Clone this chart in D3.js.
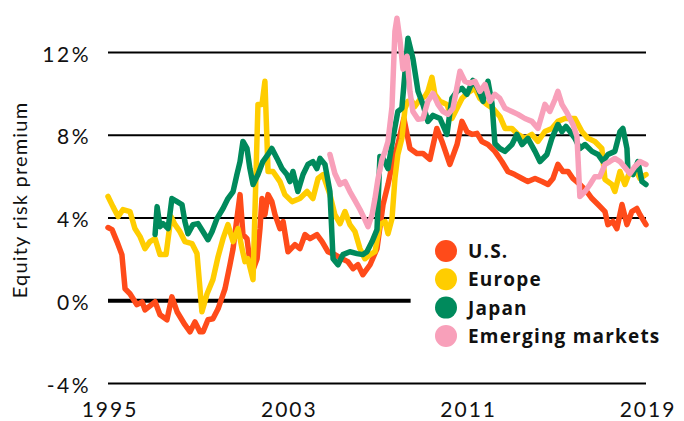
<!DOCTYPE html>
<html><head><meta charset="utf-8">
<script src="https://cdn.jsdelivr.net/npm/d3@7/dist/d3.min.js"></script>
<style>body{margin:0;background:#fff}svg{display:block}</style>
</head><body><svg id="c" width="684" height="421"></svg>
<script>
const seriesNames = ["U.S.", "Europe", "Japan", "Emerging markets"];
const seriesColors = ["#FF4B1A", "#FFCD00", "#008A5C", "#F8A0BA"];
const yTicks = [-4, 4, 8, 12];
const xTicks = [1995, 2003, 2011, 2019];
const zeroLineEnd = 2008.5;

const us = [[1995.00,3.54],[1995.18,3.44],[1995.40,2.86],[1995.62,2.23],[1995.76,0.58],[1995.98,0.34],[1996.29,-0.19],[1996.52,-0.05],[1996.65,-0.44],[1997.10,-0.05],[1997.32,-0.68],[1997.63,-0.92],[1997.85,0.19],[1998.08,-0.53],[1998.43,-1.16],[1998.66,-1.50],[1998.88,-1.02],[1999.10,-1.50],[1999.24,-1.50],[1999.46,-0.92],[1999.68,-0.87],[1999.91,-0.39],[2000.22,0.58],[2000.44,1.74],[2000.58,2.52],[2000.75,3.97],[2000.89,5.13],[2001.02,3.20],[2001.20,3.00],[2001.33,1.89],[2001.47,1.50],[2001.65,2.03],[2001.78,3.49],[2001.87,4.94],[2002.00,4.16],[2002.14,5.13],[2002.31,4.79],[2002.45,4.16],[2002.67,3.49],[2002.81,3.83],[2003.03,2.37],[2003.34,2.71],[2003.56,2.52],[2003.79,3.20],[2004.01,3.00],[2004.32,3.20],[2004.55,2.86],[2004.81,2.37],[2005.12,2.23],[2005.44,2.03],[2005.70,1.89],[2005.93,1.55],[2006.15,1.74],[2006.37,1.26],[2006.69,1.74],[2007.00,2.52],[2007.27,4.65],[2007.49,5.62],[2007.71,6.73],[2007.93,7.55],[2008.20,8.81],[2008.47,7.36],[2008.78,7.12],[2009.05,7.12],[2009.36,6.83],[2009.67,8.33],[2009.90,7.70],[2010.25,6.59],[2010.57,7.55],[2010.79,8.67],[2011.01,8.18],[2011.24,8.04],[2011.46,8.09],[2011.68,7.70],[2011.95,7.55],[2012.26,7.22],[2012.57,6.73],[2012.84,6.25],[2013.15,6.10],[2013.47,5.91],[2013.73,5.76],[2014.05,5.91],[2014.36,5.76],[2014.63,5.62],[2014.85,5.91],[2015.07,6.59],[2015.29,6.25],[2015.52,6.25],[2015.74,5.91],[2016.05,5.62],[2016.36,5.28],[2016.59,4.94],[2016.86,4.65],[2017.17,4.31],[2017.30,3.68],[2017.52,3.83],[2017.70,3.49],[2017.93,4.65],[2018.15,3.68],[2018.37,4.31],[2018.59,4.46],[2018.73,4.16],[2019.00,3.68]];

const europe = [[1995.00,5.04],[1995.22,4.55],[1995.45,4.07],[1995.67,4.41],[1995.98,4.31],[1996.20,3.49],[1996.43,3.10],[1996.65,2.52],[1996.87,2.86],[1997.10,3.00],[1997.32,2.23],[1997.59,2.23],[1997.81,4.07],[1997.99,3.68],[1998.21,3.34],[1998.43,2.86],[1998.75,2.76],[1998.97,2.28],[1999.19,-0.53],[1999.42,0.34],[1999.68,1.02],[1999.91,2.13],[2000.13,3.00],[2000.35,3.68],[2000.58,2.86],[2000.80,3.49],[2000.98,2.52],[2001.11,1.89],[2001.24,2.03],[2001.47,1.02],[2001.69,9.49],[2001.87,9.49],[2002.00,10.61],[2002.14,6.25],[2002.36,6.25],[2002.67,5.76],[2002.89,5.13],[2003.21,4.79],[2003.56,4.94],[2003.88,5.28],[2004.14,4.94],[2004.37,5.91],[2004.59,6.10],[2004.90,5.13],[2005.12,4.16],[2005.35,3.73],[2005.57,4.31],[2005.79,3.68],[2006.02,3.34],[2006.24,2.52],[2006.46,2.03],[2006.69,2.23],[2006.91,2.37],[2007.13,3.68],[2007.36,3.83],[2007.49,3.24],[2007.67,3.97],[2007.80,5.91],[2007.93,7.07],[2008.11,7.85],[2008.25,9.30],[2008.38,9.64],[2008.56,9.64],[2008.69,9.39],[2008.92,9.73],[2009.14,9.88],[2009.27,10.12],[2009.45,10.80],[2009.58,9.98],[2009.81,9.64],[2010.12,9.49],[2010.34,8.81],[2010.57,9.30],[2010.79,9.78],[2011.01,10.02],[2011.37,10.27],[2011.59,9.78],[2011.90,9.49],[2012.17,9.30],[2012.48,8.91],[2012.71,8.33],[2013.02,8.33],[2013.29,8.04],[2013.60,7.85],[2013.91,8.04],[2014.18,7.70],[2014.49,8.18],[2014.80,8.33],[2015.07,8.67],[2015.38,8.81],[2015.83,8.81],[2016.14,8.18],[2016.41,7.85],[2016.72,7.70],[2017.03,7.36],[2017.17,5.86],[2017.48,5.62],[2017.61,5.28],[2017.84,6.25],[2018.06,5.62],[2018.28,6.25],[2018.51,6.39],[2018.73,5.91],[2019.00,6.10]];

const japan = [[1997.10,3.20],[1997.19,4.55],[1997.32,3.58],[1997.45,3.73],[1997.68,3.49],[1997.85,4.94],[1998.08,4.79],[1998.30,4.65],[1998.43,3.83],[1998.57,3.24],[1998.79,3.68],[1999.01,3.73],[1999.24,3.34],[1999.46,2.95],[1999.64,3.34],[1999.86,3.97],[2000.13,4.46],[2000.35,4.94],[2000.58,5.28],[2000.75,6.10],[2000.89,6.73],[2001.02,7.70],[2001.20,7.36],[2001.33,6.39],[2001.47,5.62],[2001.69,6.10],[2001.91,6.73],[2002.14,7.07],[2002.31,7.36],[2002.54,6.88],[2002.76,6.39],[2002.98,6.10],[2003.12,5.76],[2003.25,6.25],[2003.47,5.28],[2003.70,6.10],[2003.92,6.59],[2004.14,6.73],[2004.32,6.39],[2004.46,6.88],[2004.68,6.59],[2004.90,5.28],[2005.04,2.03],[2005.26,1.74],[2005.48,2.23],[2005.79,2.37],[2006.11,2.28],[2006.37,2.23],[2006.55,2.37],[2006.78,2.86],[2007.00,3.44],[2007.13,6.97],[2007.27,6.88],[2007.49,6.39],[2007.71,7.85],[2007.93,9.15],[2008.11,9.30],[2008.38,12.69],[2008.60,11.72],[2008.83,10.12],[2009.05,9.49],[2009.27,8.67],[2009.50,8.96],[2009.81,8.81],[2010.12,8.04],[2010.34,9.78],[2010.57,10.12],[2010.79,10.27],[2011.01,9.98],[2011.28,10.65],[2011.50,10.27],[2011.73,9.64],[2011.95,10.61],[2012.13,9.54],[2012.26,7.60],[2012.48,7.36],[2012.71,7.22],[2013.02,7.55],[2013.24,8.04],[2013.47,7.55],[2013.73,7.85],[2014.05,7.22],[2014.27,6.73],[2014.58,7.07],[2014.80,7.85],[2015.07,8.52],[2015.25,8.18],[2015.43,8.43],[2015.61,8.18],[2015.83,7.85],[2016.05,7.36],[2016.28,7.55],[2016.59,7.22],[2016.86,7.07],[2017.08,6.73],[2017.30,7.07],[2017.61,7.22],[2017.84,8.18],[2017.97,8.33],[2018.15,7.36],[2018.19,6.39],[2018.42,6.10],[2018.64,6.73],[2018.82,5.76],[2019.00,5.62]];

const emerging = [[2004.90,7.07],[2005.12,6.15],[2005.35,5.62],[2005.57,5.76],[2005.79,5.28],[2006.02,4.84],[2006.24,4.41],[2006.46,3.92],[2006.60,3.58],[2006.78,4.16],[2006.91,4.94],[2007.04,5.86],[2007.22,6.83],[2007.36,7.22],[2007.49,7.70],[2007.67,9.39],[2007.80,13.03],[2007.89,13.66],[2008.02,12.64],[2008.16,11.19],[2008.34,11.82],[2008.47,10.12],[2008.60,9.15],[2008.83,8.77],[2009.05,8.81],[2009.27,9.64],[2009.50,10.02],[2009.72,9.49],[2009.94,9.15],[2010.17,9.01],[2010.39,9.30],[2010.70,11.09],[2010.92,10.61],[2011.15,10.51],[2011.37,10.61],[2011.59,10.12],[2011.82,10.46],[2012.04,9.64],[2012.26,9.98],[2012.48,9.78],[2012.71,9.30],[2013.02,9.15],[2013.29,9.01],[2013.60,8.81],[2013.91,8.67],[2014.18,8.33],[2014.49,9.49],[2014.71,9.15],[2014.94,9.73],[2015.07,10.12],[2015.25,9.49],[2015.47,9.10],[2015.74,8.52],[2015.92,7.94],[2016.05,5.04],[2016.28,5.28],[2016.50,5.62],[2016.72,6.00],[2016.94,6.00],[2017.17,6.59],[2017.39,6.73],[2017.61,6.88],[2017.84,6.73],[2018.06,6.44],[2018.28,6.15],[2018.51,6.49],[2018.73,6.73],[2019.00,6.59]];

const seriesData = [us, europe, japan, emerging];

const svg = d3.select("#c");
const x = d3.scaleLinear().domain([1995, 2019]).range([108, 646]);
const y = d3.scaleLinear().domain([-4, 12]).range([383.5, 52.5]);
const font = "Lato, 'Open Sans', sans-serif";

// gridlines
svg.append("g").selectAll("line").data(yTicks).join("line")
  .attr("x1", x(1995)).attr("x2", x(2019))
  .attr("y1", d => y(d)).attr("y2", d => y(d))
  .attr("stroke", "#000").attr("stroke-width", 2.2);
svg.append("line").attr("x1", x(1995)).attr("x2", x(zeroLineEnd))
  .attr("y1", y(0)).attr("y2", y(0)).attr("stroke", "#000").attr("stroke-width", 4);

// y labels
svg.append("g").selectAll("text").data(yTicks.concat([0])).join("text")
  .attr("x", 91).attr("y", d => y(d) + 9)
  .attr("text-anchor", "end").attr("font-family", font).attr("font-size", 21)
  .attr("letter-spacing", 2.5)
  .attr("fill", "#111").text(d => d + "%");

// x labels
svg.append("g").selectAll("text").data(xTicks).join("text")
  .attr("x", d => x(d) + 2).attr("y", 417)
  .attr("text-anchor", "middle").attr("font-family", font).attr("font-size", 21)
  .attr("letter-spacing", 2)
  .attr("fill", "#111").text(d => d);

// y title
svg.append("text").attr("transform", "translate(27,200) rotate(-90)")
  .attr("text-anchor", "middle").attr("font-family", font).attr("font-size", 20)
  .attr("letter-spacing", 1.2)
  .attr("fill", "#111").text("Equity risk premium");

// lines
const line = d3.line().x(d => x(d[0])).y(d => y(d[1]));
svg.append("g").selectAll("path").data(seriesData).join("path")
  .attr("d", line).attr("fill", "none")
  .attr("stroke", (d, i) => seriesColors[i]).attr("stroke-width", 5.5)
  .attr("stroke-linejoin", "round").attr("stroke-linecap", "round");

// legend
const lg = svg.append("g").selectAll("g").data(seriesNames).join("g")
  .attr("transform", (d, i) => `translate(446,${251 + i * 28.3})`);
lg.append("circle").attr("r", 11).attr("fill", (d, i) => seriesColors[i]);
lg.append("text").attr("x", 22).attr("y", 7).attr("font-family", "'Open Sans', Lato, sans-serif")
  .attr("font-weight", "bold").attr("font-size", 19).attr("letter-spacing", 1.2)
  .attr("fill", "#111").text(d => d);
</script></body></html>
